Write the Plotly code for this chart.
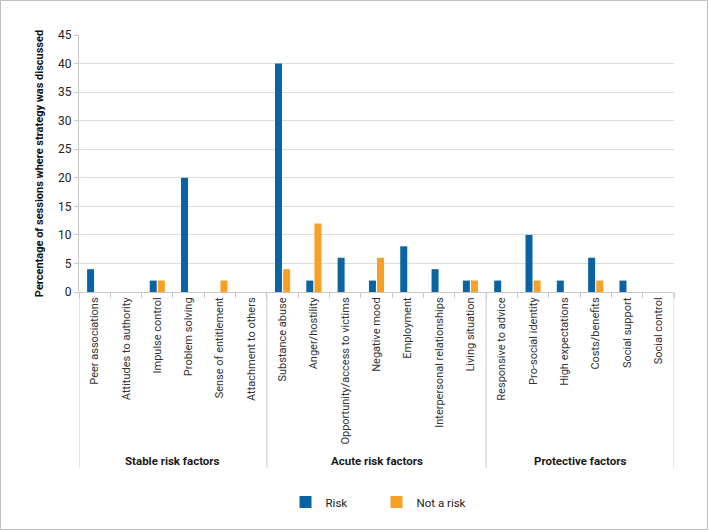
import plotly.graph_objects as go

# categories in chart order, grouped
categories = ['Peer associations', 'Attitudes to authority', 'Impulse control',
              'Problem solving', 'Sense of entitlement', 'Attachment to others',
              'Substance abuse', 'Anger/hostility', 'Opportunity/access to victims',
              'Negative mood', 'Employment', 'Interpersonal relationships',
              'Living situation',
              'Responsive to advice', 'Pro-social identity', 'High expectations',
              'Costs/benefits', 'Social support', 'Social control']
groups = ['Stable risk factors', 'Acute risk factors', 'Protective factors']
group_sizes = [6, 7, 6]

risk = [4, 0, 2, 20, 0, 0,
        40, 2, 6, 2, 8, 4, 2,
        2, 10, 2, 6, 2, 0]
not_risk = [0, 0, 2, 0, 2, 0,
            4, 12, 0, 6, 0, 0, 2,
            0, 2, 0, 2, 0, 0]

BLUE = '#0a64a3'
ORANGE = '#f7a024'
FONT = 'Roboto'

fig = go.Figure()
fig.add_trace(go.Bar(x=categories, y=risk, name='Risk', marker_color=BLUE,
                     marker_line_width=0))
fig.add_trace(go.Bar(x=categories, y=not_risk, name='Not a risk', marker_color=ORANGE,
                     marker_line_width=0))

# plot area in pixels
W, H = 709, 532
L, R, T, B = 79, 35, 35, 240
pw, ph = W - L - R, H - T - B

def py(px_y):
    # pixel y -> paper y
    return (H - B - px_y) / ph

def px(px_x):
    return (px_x - L) / pw

# group separators and labels
shapes = []
annotations = []
start = 0
bounds = [-0.5]
for g, n in zip(groups, group_sizes):
    annotations.append(dict(x=start + (n - 1) / 2, xref='x', y=py(461), yref='paper',
                            text='<b>' + g + '</b>', showarrow=False,
                            font=dict(family=FONT, size=11.5, color='#1a1a1a'),
                            yanchor='middle'))
    start += n
    bounds.append(start - 0.5)
for b in bounds:
    shapes.append(dict(type='line', xref='x', yref='paper', x0=b, x1=b,
                       y0=0, y1=py(468), line=dict(color='#c8c8c8', width=1)))

# outer border
shapes.append(dict(type='rect', xref='paper', yref='paper',
                   x0=px(0.5), x1=px(707.5), y0=py(529.5), y1=py(0.5),
                   line=dict(color='#c0c0c0', width=1)))

fig.update_layout(
    width=W, height=H,
    margin=dict(l=L, r=R, t=T, b=B, autoexpand=False),
    paper_bgcolor='white', plot_bgcolor='white',
    font=dict(family=FONT, size=11, color='#222'),
    barmode='group', bargap=0.48, bargroupgap=0.14,
    shapes=shapes, annotations=annotations,
    legend=dict(orientation='h', x=0.5, xanchor='center', y=py(502), yanchor='middle',
                font=dict(family=FONT, size=11.5, color='#222'),
                itemwidth=30, entrywidth=46, entrywidthmode='pixels',
                traceorder='normal'),
)
fig.update_xaxes(type='category', tickangle=-90, tickson='boundaries', ticks='outside',
                 ticklen=5, tickcolor='#c8c8c8', showline=True, linecolor='#c8c8c8',
                 showgrid=False, tickfont=dict(family=FONT, size=11, color='#333'),
                 automargin=False, range=[-0.5, len(categories) - 0.5])
fig.update_yaxes(range=[0, 45], dtick=5, showgrid=True, gridcolor='#dcdcdc',
                 showline=True, linecolor='#c8c8c8', ticks='outside', ticklen=4,
                 tickcolor='#c8c8c8', zeroline=False,
                 tickfont=dict(family=FONT, size=12, color='#222'),
                 title=dict(text='<b>Percentage of sessions where strategy was discussed</b>',
                            font=dict(family=FONT, size=11, color='#111'), standoff=12),
                 automargin=False)

# drop the default page margin so the chart sits at the window corner
fig.write_html('out.html', config={'displayModeBar': False},
               post_script="document.body.style.margin='0';")
